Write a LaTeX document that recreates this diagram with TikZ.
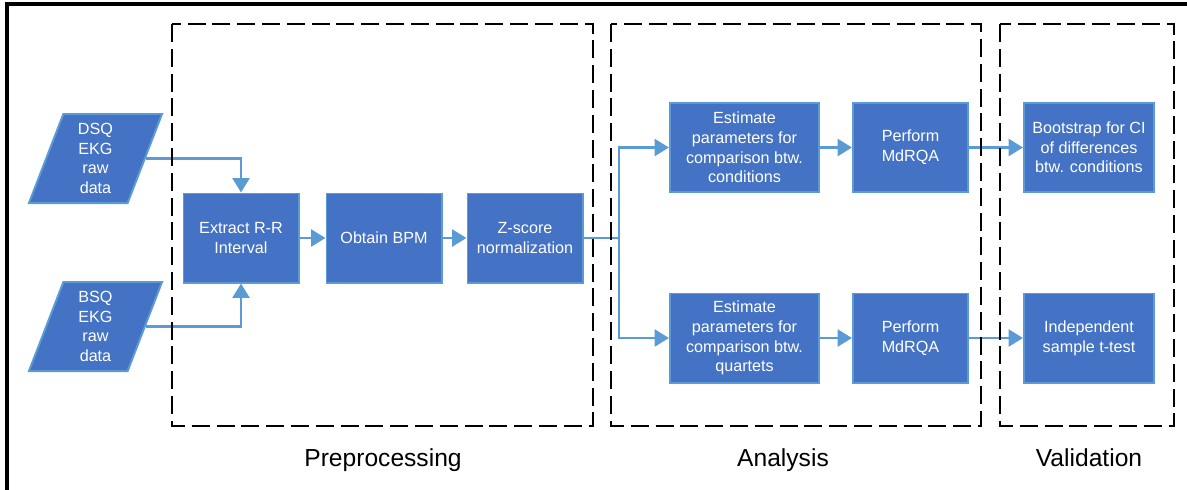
\documentclass[tikz,border=0pt]{standalone}
\usepackage{fontspec}
\setmainfont{Liberation Sans}
\usepackage{xcolor}
\usetikzlibrary{arrows.meta,positioning,shapes.geometric}

\definecolor{boxblue}{HTML}{4472C4}
\definecolor{lineblue}{HTML}{5B9BD5}

\begin{document}
\begin{tikzpicture}[
        x=0.025cm, y=-0.025cm,
        font=\fontsize{11.5}{14}\selectfont,
        % node styles
        procbox/.style={draw=lineblue, line width=1.4pt, fill=boxblue, text=white, align=center, minimum width=2.875cm, minimum height=2.225cm, inner sep=2pt},
        widebox/.style={procbox, minimum width=3.725cm},
        testbox/.style={procbox, minimum width=3.25cm},
        databox/.style={procbox, trapezium, trapezium left angle=64, trapezium right angle=116, trapezium stretches body, minimum width=3.325cm, minimum height=2.225cm, inner sep=0pt},
        % connector styles
        link/.style={draw=lineblue, line width=2.1pt},
        flow/.style={link, -{Triangle[length=0.36cm,width=0.42cm]}},
        % groups
        group/.style={draw=black, line width=1.4pt, dash pattern=on 0.45cm off 0.17cm},
        grouplabel/.style={font=\fontsize{17.5}{21}\selectfont, anchor=base}
    ]
    \useasboundingbox (0,0) rectangle (1187,489);

    % outer frame
    \draw[line width=2.2pt] (7,500) |- (1195,4);

    % input data
    \node[databox] (dsq) at (95.5,158.5) {DSQ\\EKG\\raw\\data};
    \node[databox] (bsq) at (95.5,326.5) {BSQ\\EKG\\raw\\data};

    % preprocessing
    \node[procbox] (extract) at (241,238) {Extract R-R\\Interval};
    \node[procbox, right=0.65cm of extract] (bpm) {Obtain BPM};
    \node[procbox, right=0.6cm of bpm] (zscore) {Z-score\\normalization};

    % analysis
    \node[widebox] (estcond) at (744.5,147.5) {Estimate\\parameters for\\comparison btw.\\conditions};
    \node[procbox, right=0.8cm of estcond] (rqacond) {Perform\\MdRQA};
    \node[widebox] (estquart) at (744.5,338) {Estimate\\parameters for\\comparison btw.\\quartets};
    \node[procbox, right=0.8cm of estquart] (rqaquart) {Perform\\MdRQA};

    % validation
    \node[testbox] (boot) at (1089,147.5) {Bootstrap for CI\\of differences\\btw. conditions};
    \node[testbox] (ttest) at (1089,338) {Independent\\sample t-test};

    % connectors
    \coordinate (split) at (619,238);
    \draw[flow] (dsq.east) -| (extract.north);
    \draw[flow] (bsq.east) -| (extract.south);
    \draw[flow] (extract) -- (bpm);
    \draw[flow] (bpm) -- (zscore);
    \draw[link] (zscore.east) -- (split);
    \draw[flow] (split) |- (estcond.west);
    \draw[flow] (split) |- (estquart.west);
    \draw[flow] (estcond) -- (rqacond);
    \draw[flow] (estquart) -- (rqaquart);
    \draw[flow] (rqacond) -- (boot);
    \draw[flow] (rqaquart) -- (ttest);

    % stage boxes and labels
    \draw[group] (172,24) rectangle (593,426);
    \draw[group] (611,24) rectangle (981,426);
    \draw[group] (1000,24) rectangle (1174,426);
    \node[grouplabel] (prelabel) at (383,466) {Preprocessing};
    \node[grouplabel] (analabel) at (783,466) {Analysis};
    \node[grouplabel] (vallabel) at (1089,466) {Validation};

\end{tikzpicture}
\end{document}
